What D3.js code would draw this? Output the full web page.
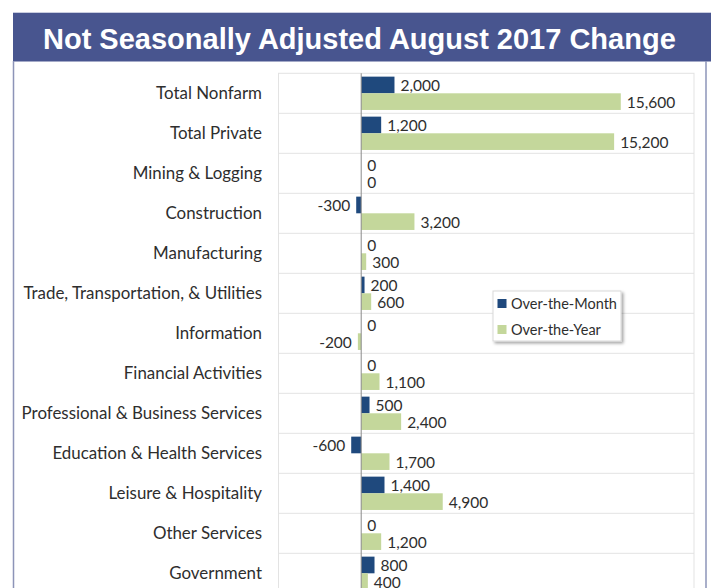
<!DOCTYPE html>
<html><head><meta charset="utf-8">
<script src="https://cdn.jsdelivr.net/npm/d3@7"></script>
<style>body{margin:0;background:#fff;overflow:hidden} svg{display:block}</style>
</head><body>
<svg id="chart" width="711" height="588"></svg>
<script>
const titleText = "Not Seasonally Adjusted August 2017 Change";
const categories = [
  "Total Nonfarm",
  "Total Private",
  "Mining & Logging",
  "Construction",
  "Manufacturing",
  "Trade, Transportation, & Utilities",
  "Information",
  "Financial Activities",
  "Professional & Business Services",
  "Education & Health Services",
  "Leisure & Hospitality",
  "Other Services",
  "Government"
];
const overTheMonth = [2000, 1200, 0, -300, 0, 200, 0, 0, 500, -600, 1400, 0, 800];
const overTheYear  = [15600, 15200, 0, 3200, 300, 600, -200, 1100, 2400, 1700, 4900, 1200, 400];
const seriesNames = ["Over-the-Month", "Over-the-Year"];
const seriesColors = ["#1f497d", "#c4d79b"];
const xDomain = [-5000, 20000];

const svg = d3.select("#chart");
const labelFont = "Lato, 'Open Sans', sans-serif";
const textColor = "#2e2e2e";

// banner + panel
svg.append("rect").attr("x", 13).attr("y", 12.5).attr("width", 698).attr("height", 49)
  .attr("fill", "#48558f");
svg.append("line").attr("x1", 13).attr("x2", 711).attr("y1", 12.5).attr("y2", 12.5)
  .attr("stroke", "#c9cde0").attr("stroke-width", 1);
svg.append("line").attr("x1", 13.5).attr("x2", 13.5).attr("y1", 61).attr("y2", 588)
  .attr("stroke", "#8d94b8").attr("stroke-width", 1.5);
svg.append("line").attr("x1", 706).attr("x2", 706).attr("y1", 61).attr("y2", 588)
  .attr("stroke", "#8d94b8").attr("stroke-width", 1.5);
svg.append("text").attr("x", 43).attr("y", 48.5)
  .attr("font-family", "'Liberation Sans', Arial, sans-serif")
  .attr("font-weight", "bold").attr("font-size", 29).attr("fill", "#ffffff")
  .text(titleText);

// scales
const x = d3.scaleLinear().domain(xDomain).range([278, 694]);
const y = d3.scaleBand().domain(categories).range([73.3, 73.3 + categories.length * 40]).padding(0);
const sub = d3.scaleBand().domain(seriesNames).range([0, y.bandwidth()]).paddingInner(0).paddingOuter(0.2);

// plot area
const plotTop = 73.3, plotBottom = 600;
svg.append("rect").attr("x", 278.5).attr("y", plotTop).attr("width", 694 - 278.5)
  .attr("height", plotBottom - plotTop).attr("fill", "none").attr("stroke", "#e3e3e3");
svg.append("g").selectAll("line").data(categories.slice(1)).join("line")
  .attr("x1", 278).attr("x2", 694)
  .attr("y1", d => y(d)).attr("y2", d => y(d))
  .attr("stroke", "#e3e3e3").attr("stroke-width", 1);

// category labels
svg.append("g").selectAll("text").data(categories).join("text")
  .attr("x", 262).attr("y", d => y(d) + y.bandwidth() / 2)
  .attr("dy", "0.35em").attr("text-anchor", "end")
  .attr("font-family", labelFont).attr("font-size", 16.9).attr("fill", textColor)
  .text(d => d);

// bars
const rows = [];
categories.forEach((c, i) => {
  rows.push({cat: c, s: seriesNames[0], v: overTheMonth[i], color: seriesColors[0]});
  rows.push({cat: c, s: seriesNames[1], v: overTheYear[i], color: seriesColors[1]});
});
svg.append("g").selectAll("rect").data(rows).join("rect")
  .attr("x", d => x(Math.min(0, d.v)))
  .attr("width", d => Math.abs(x(d.v) - x(0)))
  .attr("y", d => y(d.cat) + sub(d.s))
  .attr("height", sub.bandwidth())
  .attr("fill", d => d.color);

// zero axis
svg.append("line").attr("x1", x(0)).attr("x2", x(0)).attr("y1", plotTop).attr("y2", 588)
  .attr("stroke", "#8a8a8a").attr("stroke-width", 1);

// value labels
const fmt = d3.formatLocale({decimal: ".", thousands: ",", grouping: [3], currency: ["", ""], minus: "-"}).format(",");
svg.append("g").selectAll("text").data(rows).join("text")
  .attr("x", d => d.v < 0 ? x(d.v) - 6 : x(d.v) + 6)
  .attr("y", d => y(d.cat) + sub(d.s) + sub.bandwidth() / 2 + 1)
  .attr("dy", "0.35em")
  .attr("text-anchor", d => d.v < 0 ? "end" : "start")
  .attr("font-family", labelFont).attr("font-size", 15.5).attr("fill", textColor)
  .text(d => fmt(d.v));

// legend
const defs = svg.append("defs");
const f = defs.append("filter").attr("id", "shadow").attr("x", "-10%").attr("y", "-10%")
  .attr("width", "130%").attr("height", "140%");
f.append("feDropShadow").attr("dx", 2).attr("dy", 2).attr("stdDeviation", 1.5)
  .attr("flood-color", "#000").attr("flood-opacity", 0.35);
const lg = svg.append("g").attr("transform", "translate(493,291)");
lg.append("rect").attr("width", 128).attr("height", 50).attr("fill", "#fff")
  .attr("stroke", "#d9d9d9").attr("filter", "url(#shadow)");
const li = lg.selectAll("g").data(seriesNames).join("g")
  .attr("transform", (d, i) => `translate(4.5,${8 + i * 26})`);
li.append("rect").attr("width", 9).attr("height", 9).attr("fill", (d, i) => seriesColors[i]);
li.append("text").attr("x", 13.5).attr("y", 4.5).attr("dy", "0.35em")
  .attr("font-family", labelFont).attr("font-size", 14.5).attr("fill", textColor)
  .text(d => d);
</script>
</body></html>
